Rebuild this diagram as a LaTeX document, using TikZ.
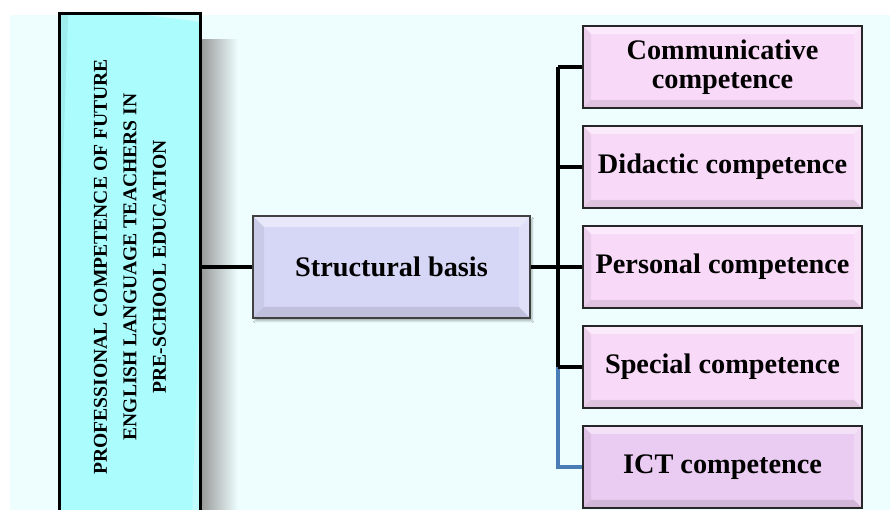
\documentclass[tikz,border=0pt]{standalone}
\usepackage{fontspec}
\setmainfont{Liberation Serif}
\usetikzlibrary{shadows.blur}
\definecolor{bgcyan}{HTML}{EEFEFE}
\definecolor{headcyan}{HTML}{ABFCFD}
\definecolor{basislav}{HTML}{D6D6F7}
\definecolor{comppink}{HTML}{F8D9F8}
\definecolor{ictpink}{HTML}{EACBF1}
\definecolor{linkblue}{HTML}{4A7DB5}
\tikzset{
  bevel/.style={path picture={
    \fill[white,opacity=.45] (path picture bounding box.north west) -- (path picture bounding box.north east)
      -- ([shift={(-#1,-#1)}]path picture bounding box.north east) -- ([shift={(#1,-#1)}]path picture bounding box.north west) -- cycle;
    \fill[black,opacity=.06] (path picture bounding box.north west) -- (path picture bounding box.south west)
      -- ([shift={(#1,#1)}]path picture bounding box.south west) -- ([shift={(#1,-#1)}]path picture bounding box.north west) -- cycle;
    \fill[black,opacity=.10] (path picture bounding box.south west) -- (path picture bounding box.south east)
      -- ([shift={(-#1,#1)}]path picture bounding box.south east) -- ([shift={(#1,#1)}]path picture bounding box.south west) -- cycle;
    \fill[white,opacity=.25] (path picture bounding box.north east) -- (path picture bounding box.south east)
      -- ([shift={(-#1,#1)}]path picture bounding box.south east) -- ([shift={(-#1,-#1)}]path picture bounding box.north east) -- cycle;
  }},
  headbox/.style={draw=black,line width=3pt,fill=headcyan,bevel=9,rotate=90,
    minimum width=506,minimum height=141,align=center,inner sep=0pt,
    font=\bfseries\fontsize{19.6}{29.5}\selectfont},
  basisbox/.style={draw=black!75,line width=1.2pt,fill=basislav,bevel=11,
    minimum width=277,minimum height=102,inner sep=0pt,
    font=\bfseries\fontsize{28.3}{30}\selectfont,
    blur shadow={shadow xshift=2pt,shadow yshift=-3pt,shadow opacity=30}},
  compbox/.style={draw=black!85,line width=2.5pt,fill=comppink,bevel=8,
    minimum width=279,minimum height=82,inner sep=0pt,align=center,
    font=\bfseries\fontsize{28.3}{29}\selectfont},
  link/.style={line width=3.5pt,draw=black},
  bluelink/.style={line width=3.5pt,draw=linkblue}
}
\begin{document}
\begin{tikzpicture}[x=1pt,y=1pt]
  \useasboundingbox (0,0) rectangle (890,510);
  \clip (0,0) rectangle (890,510);
  \fill[bgcyan] (10,0) rectangle (890,495);
  % soft shadow of the heading
  \shade[left color=black!40,right color=bgcyan] (201,0) rectangle (238,470);
  % main blocks
  \node[headbox] (head) at (130,243) {PROFESSIONAL COMPETENCE OF FUTURE\\ENGLISH LANGUAGE TEACHERS IN\\PRE-SCHOOL EDUCATION};
  \node[basisbox] (basis) at (391.5,243) {Structural basis};
  % competences
  \node[compbox] (c1) at (722.5,443) {Communicative\\competence};
  \node[compbox] (c2) at (722.5,343) {Didactic competence};
  \node[compbox] (c3) at (722.5,243) {Personal competence};
  \node[compbox] (c4) at (722.5,143) {Special competence};
  \node[compbox,fill=ictpink] (c5) at (722.5,43) {ICT competence};
  % connectors
  \coordinate (jn) at (558,243);
  \draw[link] (head.south |- basis) -- (basis.west);
  \draw[link] (basis.east) -- (jn);
  \draw[bluelink] (jn |- c4) -- (jn |- c5) -- (c5.west);
  \draw[link] (jn |- c1) -- (jn |- c4);
  \draw[link] (jn |- c1) -- (c1.west);
  \draw[link] (jn |- c2) -- (c2.west);
  \draw[link] (jn |- c3) -- (c3.west);
  \draw[link] (jn |- c4) -- (c4.west);
\end{tikzpicture}
\end{document}
